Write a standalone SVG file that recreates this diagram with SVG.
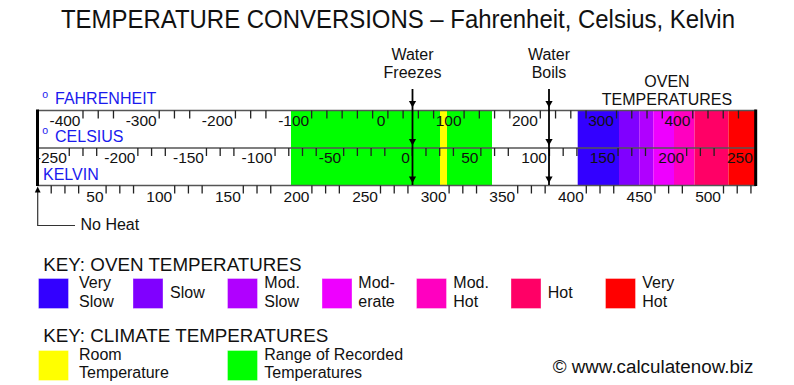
<svg xmlns="http://www.w3.org/2000/svg" width="794" height="385" viewBox="0 0 794 385">
<style>
text{font-family:"Liberation Sans",Arial,sans-serif;fill:#111}
.num{font-size:15.5px;text-anchor:end}
.scl{font-size:16px;fill:#1a1aee}
.deg{font-size:10.5px;fill:#1a1aee}
.lbl{font-size:16px}
.key{font-size:18.8px}
.kl{font-size:16px}
.hl{stroke:#555;stroke-width:1.5;fill:none}
.tk{stroke:#222;stroke-width:1.3;fill:none}
.bar{stroke:#000;stroke-width:3;fill:none}
.ar{stroke:#000;stroke-width:1.8;fill:none}
.sq{stroke:#fff;stroke-opacity:0.35;stroke-width:1}
</style>
<defs>
<polygon id="ah" points="-3.6,-6.5 3.6,-6.5 0,0" fill="#000"/>
</defs>
<rect width="794" height="385" fill="#fff"/>
<text x="61" y="28" font-size="26" textLength="674" lengthAdjust="spacingAndGlyphs">TEMPERATURE CONVERSIONS – Fahrenheit, Celsius, Kelvin</text>

<g id="bands">
<rect x="291" y="110" width="201" height="75" fill="#00ff00"/>
<rect x="440" y="110" width="7" height="75" fill="#ffff00"/>
<rect x="577.7" y="110" width="41.3" height="75" fill="#3300ff"/>
<rect x="619" y="110" width="20.3" height="75" fill="#8000ff"/>
<rect x="639.3" y="110" width="14" height="75" fill="#b000ff"/>
<rect x="653.3" y="110" width="20.7" height="75" fill="#ee00ff"/>
<rect x="674" y="110" width="20.5" height="75" fill="#ff00c0"/>
<rect x="694.5" y="110" width="34" height="75" fill="#ff0066"/>
<rect x="728.5" y="110" width="27.5" height="75" fill="#ff0000"/>
</g>

<g id="scale">
<path class="hl" d="M37.5 110.5H756M37.5 148H756M37.5 185.5H756"/>
<path class="tk" d="M82.99 110.5v8M98.23 110.5v8M113.48 110.5v8M159.21 110.5v8M174.45 110.5v8M189.70 110.5v8M235.43 110.5v8M250.67 110.5v8M265.92 110.5v8M311.65 110.5v8M326.89 110.5v8M342.14 110.5v8M357.38 110.5v8M372.63 110.5v8M387.87 110.5v8M403.11 110.5v8M418.36 110.5v8M433.60 110.5v8M464.09 110.5v8M479.33 110.5v8M494.58 110.5v8M509.82 110.5v8M540.31 110.5v8M555.55 110.5v8M570.80 110.5v8M586.04 110.5v8M616.53 110.5v8M631.77 110.5v8M647.02 110.5v8M662.26 110.5v8M692.75 110.5v8M707.99 110.5v8M723.24 110.5v8M738.48 110.5v8"/>
<path class="tk" d="M69.26 148v8M82.98 148v8M96.70 148v8M137.86 148v8M151.58 148v8M165.30 148v8M206.46 148v8M220.18 148v8M233.90 148v8M275.06 148v8M288.78 148v8M302.50 148v8M316.22 148v8M343.66 148v8M357.38 148v8M371.10 148v8M384.82 148v8M412.26 148v8M425.98 148v8M439.70 148v8M453.42 148v8M480.86 148v8M494.58 148v8M508.30 148v8M549.46 148v8M563.18 148v8M576.90 148v8M618.06 148v8M631.78 148v8M645.50 148v8M686.66 148v8M700.38 148v8M714.10 148v8"/>
<path class="tk" d="M51.22 185.5v8M64.94 185.5v8M78.66 185.5v8M106.10 185.5v8M119.82 185.5v8M133.54 185.5v8M174.70 185.5v8M188.42 185.5v8M202.14 185.5v8M243.30 185.5v8M257.02 185.5v8M270.74 185.5v8M311.90 185.5v8M325.62 185.5v8M339.34 185.5v8M380.50 185.5v8M394.22 185.5v8M407.94 185.5v8M449.10 185.5v8M462.82 185.5v8M476.54 185.5v8M517.70 185.5v8M531.42 185.5v8M545.14 185.5v8M586.30 185.5v8M600.02 185.5v8M613.74 185.5v8M654.90 185.5v8M668.62 185.5v8M682.34 185.5v8M723.50 185.5v8M737.22 185.5v8M750.94 185.5v8"/>
<path class="bar" d="M37.5 109.5V186M755.7 109.5V186"/>
<g id="f-labels">
<text class="num" x="80.5" y="125.5">-400</text>
<text class="num" x="156.7" y="125.5">-300</text>
<text class="num" x="232.9" y="125.5">-200</text>
<text class="num" x="309.2" y="125.5">-100</text>
<text class="num" x="385.4" y="125.5">0</text>
<text class="num" x="461.6" y="125.5">100</text>
<text class="num" x="537.8" y="125.5">200</text>
<text class="num" x="614" y="125.5">300</text>
<text class="num" x="690.3" y="125.5">400</text>
</g>
<g id="c-labels">
<text class="num" x="66.8" y="163">-250</text>
<text class="num" x="135.4" y="163">-200</text>
<text class="num" x="204" y="163">-150</text>
<text class="num" x="272.6" y="163">-100</text>
<text class="num" x="341.2" y="163">-50</text>
<text class="num" x="409.8" y="163">0</text>
<text class="num" x="478.4" y="163">50</text>
<text class="num" x="547" y="163">100</text>
<text class="num" x="615.6" y="163">150</text>
<text class="num" x="684.2" y="163">200</text>
<text class="num" x="752.8" y="163">250</text>
</g>
<g id="k-labels">
<text class="num" x="103.6" y="201.5">50</text>
<text class="num" x="172.2" y="201.5">100</text>
<text class="num" x="240.8" y="201.5">150</text>
<text class="num" x="309.4" y="201.5">200</text>
<text class="num" x="378" y="201.5">250</text>
<text class="num" x="446.6" y="201.5">300</text>
<text class="num" x="515.2" y="201.5">350</text>
<text class="num" x="583.8" y="201.5">400</text>
<text class="num" x="652.4" y="201.5">450</text>
<text class="num" x="721" y="201.5">500</text>
</g>
<text class="deg" x="42.3" y="97.5">o</text>
<text class="scl" x="55" y="104.3">FAHRENHEIT</text>
<text class="deg" x="42.3" y="133.5">o</text>
<text class="scl" x="55" y="141.7">CELSIUS</text>
<text class="scl" x="43" y="180">KELVIN</text>
</g>

<g id="node-freezes">
<text class="lbl" x="412.5" y="59.5" text-anchor="middle">Water</text>
<text class="lbl" x="412.5" y="78" text-anchor="middle">Freezes</text>
</g>
<g id="node-boils">
<text class="lbl" x="549" y="59.5" text-anchor="middle">Water</text>
<text class="lbl" x="549" y="78" text-anchor="middle">Boils</text>
</g>
<g id="node-oven">
<text class="lbl" x="667" y="86.5" text-anchor="middle">OVEN</text>
<text class="lbl" x="667" y="105" text-anchor="middle">TEMPERATURES</text>
</g>
<g id="node-noheat">
<text class="lbl" x="80.5" y="230">No Heat</text>
</g>

<g id="connectors">
<path class="ar" d="M412.5 89V185"/>
<use href="#ah" x="412.5" y="107.5"/>
<use href="#ah" x="412.5" y="145.5"/>
<use href="#ah" x="412.5" y="183"/>
<path class="ar" d="M549 89V185"/>
<use href="#ah" x="549" y="107.5"/>
<use href="#ah" x="549" y="145.5"/>
<use href="#ah" x="549" y="183"/>
<path d="M75 225.5H37.7V190" stroke="#333" stroke-width="1.2" fill="none"/>
<polygon points="34.8,192.5 40.6,192.5 37.7,186.5" fill="#000"/>
</g>

<g id="key-oven">
<text class="key" x="43.3" y="270.7">KEY: OVEN TEMPERATURES</text>
<rect class="sq" x="38.5" y="278.5" width="30" height="30" fill="#3300ff"/>
<text class="kl" x="79" y="288.3">Very</text><text class="kl" x="79" y="306.7">Slow</text>
<rect class="sq" x="133" y="278.5" width="30" height="30" fill="#8000ff"/>
<text class="kl" x="170" y="297.7">Slow</text>
<rect class="sq" x="227.5" y="278.5" width="30" height="30" fill="#b000ff"/>
<text class="kl" x="264.3" y="288.3">Mod.</text><text class="kl" x="264.3" y="306.7">Slow</text>
<rect class="sq" x="322" y="278.5" width="30" height="30" fill="#ee00ff"/>
<text class="kl" x="358.3" y="288.3">Mod-</text><text class="kl" x="358.3" y="306.7">erate</text>
<rect class="sq" x="416.5" y="278.5" width="30" height="30" fill="#ff00c0"/>
<text class="kl" x="453.3" y="288.3">Mod.</text><text class="kl" x="453.3" y="306.7">Hot</text>
<rect class="sq" x="511" y="278.5" width="30" height="30" fill="#ff0066"/>
<text class="kl" x="547.7" y="298.3">Hot</text>
<rect class="sq" x="605.5" y="278.5" width="30" height="30" fill="#ff0000"/>
<text class="kl" x="642.3" y="288.3">Very</text><text class="kl" x="642.3" y="306.7">Hot</text>
</g>

<g id="key-climate">
<text class="key" x="43.3" y="341.7">KEY: CLIMATE TEMPERATURES</text>
<rect class="sq" x="38.5" y="350.5" width="30" height="30" fill="#ffff00"/>
<text class="kl" x="79" y="360">Room</text><text class="kl" x="79" y="378.3">Temperature</text>
<rect class="sq" x="227.5" y="350.5" width="30" height="30" fill="#00ff00"/>
<text class="kl" x="264.3" y="360">Range of Recorded</text><text class="kl" x="264.3" y="378.3">Temperatures</text>
</g>

<text class="key" x="552.7" y="373.3">© www.calculatenow.biz</text>
</svg>
